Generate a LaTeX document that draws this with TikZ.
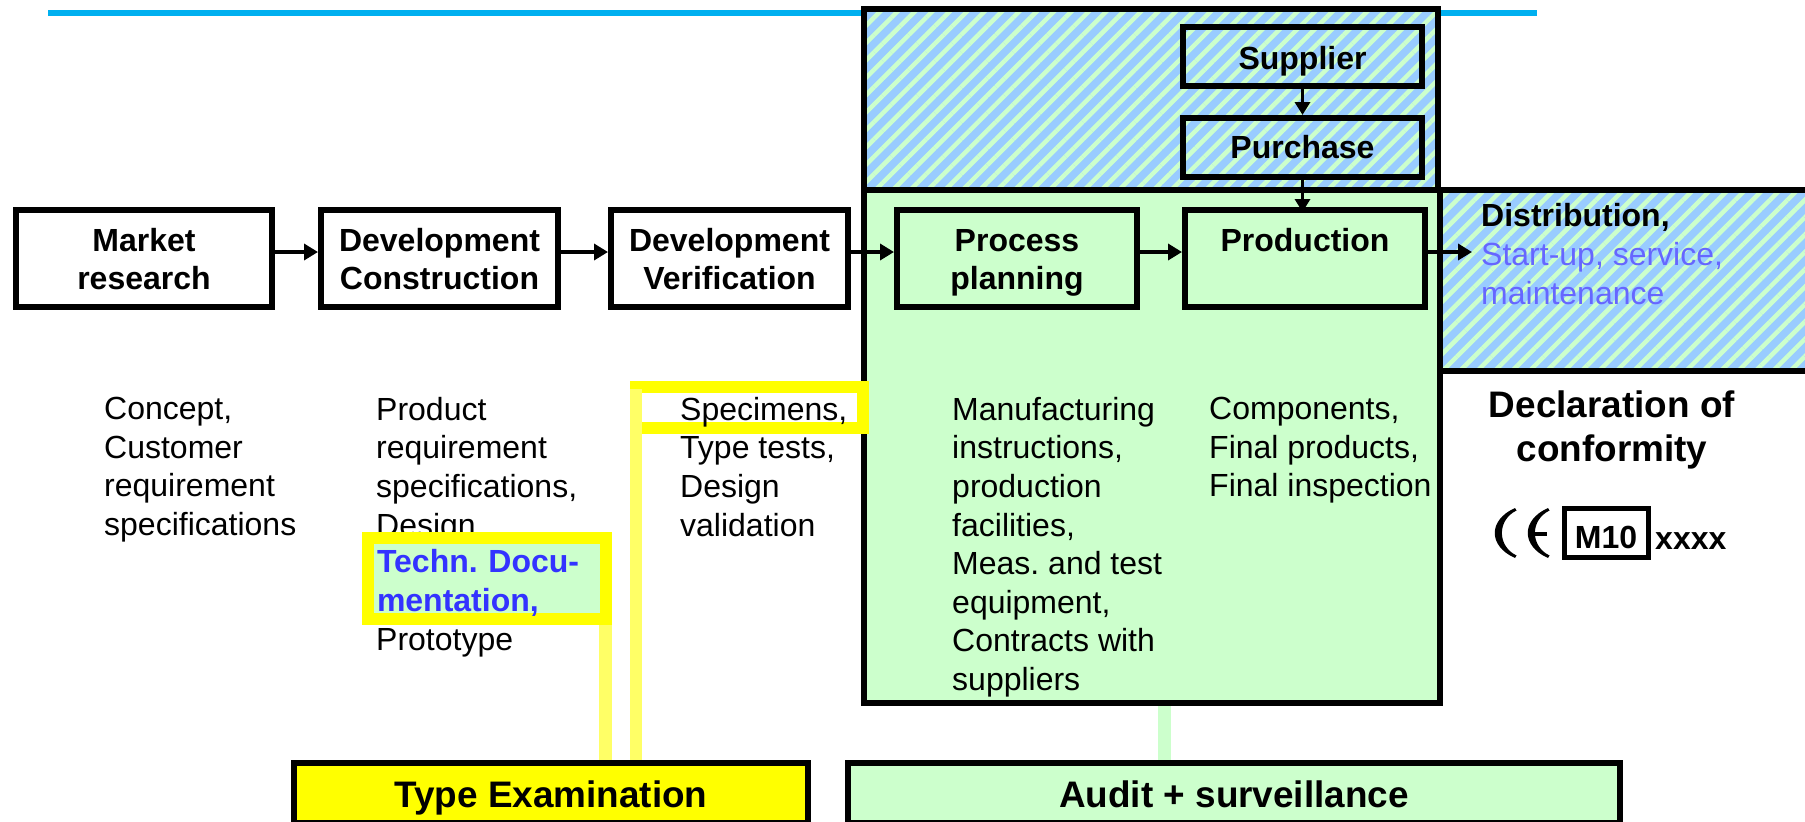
\documentclass[tikz,border=0pt]{standalone}
\usepackage{fontspec}
\setmainfont{Liberation Sans}
\usetikzlibrary{arrows.meta,patterns.meta}
\definecolor{hblue}{HTML}{99CCFF}
\definecolor{hgreen}{HTML}{CCFFCC}
\definecolor{lyellow}{HTML}{FFFF66}
\definecolor{pureyellow}{HTML}{FFFF00}
\definecolor{topline}{HTML}{00B0F0}
\definecolor{techblue}{HTML}{3333FF}
\definecolor{distblue}{HTML}{6666FF}
\newcommand{\flowtop}{\rule{0pt}{31.7pt}}
\newcommand{\flowbot}{\rule[-8pt]{0pt}{8pt}}
\tikzset{
  x=1pt,y=-1pt,
  every node/.style={font=\fontsize{32}{38.6}\selectfont\frenchspacing},
  flowbox/.style={draw=black,line width=6pt,minimum width=#1,minimum height=97pt,inner sep=0pt,align=center,font=\fontsize{32}{38.7}\selectfont\bfseries},
  flowbox/.default=240pt,
  hatched/.style={draw=black,line width=6pt,inner sep=0pt,preaction={fill=hblue},
    pattern={Lines[angle=45,distance=12.3pt,line width=4.5pt]},pattern color=hgreen},
  arrowline/.style={line width=4pt,-{Triangle[length=14pt,width=16pt]}},
  downline/.style={line width=3.5pt,-{Triangle[length=13pt,width=15pt]}},
  bodytext/.style={anchor=north west,inner sep=0pt,align=left},
  bar/.style={line width=12.5pt},
  yellowbox/.style={draw=pureyellow,line width=12pt,inner sep=0pt},
  headbox/.style={draw=black,line width=6pt,inner sep=0pt,minimum height=60pt,font=\fontsize{36.9}{44}\selectfont\bfseries,text height=30pt,text depth=2pt},
  smallbox/.style={draw=black,line width=6pt,inner sep=0pt,minimum width=239pt,minimum height=59pt,font=\fontsize{32}{38.7}\selectfont\bfseries},
}
\begin{document}
\begin{tikzpicture}
\clip (0,0) rectangle (1805,822);
\fill[white] (0,0) rectangle (1805,822);
% top rule
\coordinate (ruleL) at (48,13);
\coordinate (ruleR) at (1537,13);
\draw[topline,line width=6pt] (ruleL) -- (ruleR);
% large regions
\node[hatched,minimum width=574pt,minimum height=181pt] (upper) at (1151,99.5) {};
\node[hatched,minimum width=460pt,minimum height=181pt] (dist) at (1668,280.5) {};
\node[draw=black,fill=hgreen,line width=6pt,inner sep=0pt,minimum width=576pt,minimum height=513pt] (green) at (1152,446.5) {};
% bottom boxes
\node[headbox,fill=pureyellow,minimum width=514pt] (type) at (551,793) {Type Examination};
\node[headbox,fill=hgreen,minimum width=772pt] (audit) at (1234,793) {Audit + surveillance};
% body text under yellow box
\node[bodytext] (t1) at (104,397) {Concept,\\Customer\\requirement\\specifications};
\node[bodytext] (t2) at (376,397) {Product\\requirement\\specifications,\\Design,};
\node[bodytext] (t2b) at (376,628) {Prototype};
% connector bars
\coordinate (techbar) at (605.5,625);
\coordinate (specbar) at (636,389);
\coordinate (greenbar) at (1164.5,706);
% yellow boxes
\node[yellowbox,fill=hgreen,minimum width=238pt,minimum height=81pt,text width=220pt,inner xsep=9pt,align=left,font=\fontsize{32}{38.7}\selectfont\bfseries\frenchspacing,text=techblue] (tech) at (487,578.5) {\rule{0pt}{32.4pt}Techn. Docu-\\mentation,};
\node[yellowbox,fill=white,minimum width=227pt,minimum height=41pt] (spec) at (749.5,407.5) {};
\draw[lyellow,bar] (techbar) -- (techbar |- type.north);
\draw[lyellow,bar] (specbar) -- (specbar |- type.north);
\draw[hgreen,bar] (greenbar) -- (greenbar |- audit.north);
\node[bodytext] (t3) at (680,397) {Specimens,\\Type tests,\\Design\\validation};
\node[bodytext] (t4) at (952,397) {Manufacturing\\instructions,\\production\\facilities,\\Meas. and test\\equipment,\\Contracts with\\suppliers};
\node[bodytext] (t5) at (1209,397) {Components,\\Final products,\\Final inspection};
% flow boxes
\node[flowbox=256pt] (market) at (144,258.5) {\flowtop Market\\research\flowbot};
\node[flowbox=237pt] (devc) at (439.5,258.5) {\flowtop Development\\Construction\flowbot};
\node[flowbox=237pt] (devv) at (729.5,258.5) {\flowtop Development\\Verification\flowbot};
\node[flowbox=240pt] (proc) at (1017,258.5) {\flowtop Process\\planning\flowbot};
\node[flowbox=240pt] (prod) at (1305,258.5) {\flowtop Production\\\flowbot};
\node[smallbox,text height=27pt,text depth=2pt] (supplier) at (1302.5,56.5) {Supplier};
\node[smallbox,text height=24pt,text depth=3pt] (purchase) at (1302.5,147.5) {Purchase};
% arrows
\coordinate (flowy) at (0,252);
\draw[arrowline] (market.east |- flowy) -- (devc.west |- flowy);
\draw[arrowline] (devc.east |- flowy) -- (devv.west |- flowy);
\draw[arrowline] (devv.east |- flowy) -- (proc.west |- flowy);
\draw[arrowline] (proc.east |- flowy) -- (prod.west |- flowy);
\coordinate (disttip) at (1472,252);
\draw[arrowline] (prod.east |- disttip) -- (disttip);
\draw[downline] (supplier.south) -- (purchase.north);
\coordinate (prodtip) at (1302.5,212);
\draw[downline] (purchase.south) -- (prodtip);
% distribution text
\node[bodytext] (t6) at (1481,203.5) {\textbf{Distribution,}\\\textcolor{distblue}{Start-up, service,}\\\textcolor{distblue}{maintenance}};
% declaration
\node[inner sep=0pt,align=center,font=\fontsize{36.9}{44}\selectfont\bfseries] (decl) at (1612,430) {Declaration of\\conformity};
% CE mark
\fill (1515,508) .. controls (1488,520) and (1488,546) .. (1515,558) -- (1516.5,555.5) .. controls (1497,546) and (1497,520) .. (1516.5,510.5) -- cycle;
\fill (1548,508) .. controls (1521,520) and (1521,546) .. (1548,558) -- (1549.5,555.5) .. controls (1530,546) and (1530,520) .. (1549.5,510.5) -- cycle;
\coordinate (eL) at (1532,534);
\coordinate (eR) at (1547,534);
\draw[line width=4pt] (eL) -- (eR);
\node[draw=black,line width=5pt,inner sep=0pt,minimum width=84pt,minimum height=49pt,font=\fontsize{32}{38.7}\selectfont\bfseries,text height=33pt,text depth=2pt] (m10) at (1606,532.5) {M10};
\node[anchor=base west,inner sep=0pt,font=\fontsize{32}{38.7}\selectfont\bfseries] (xxxx) at (1655,549) {xxxx};
\end{tikzpicture}
\end{document}
